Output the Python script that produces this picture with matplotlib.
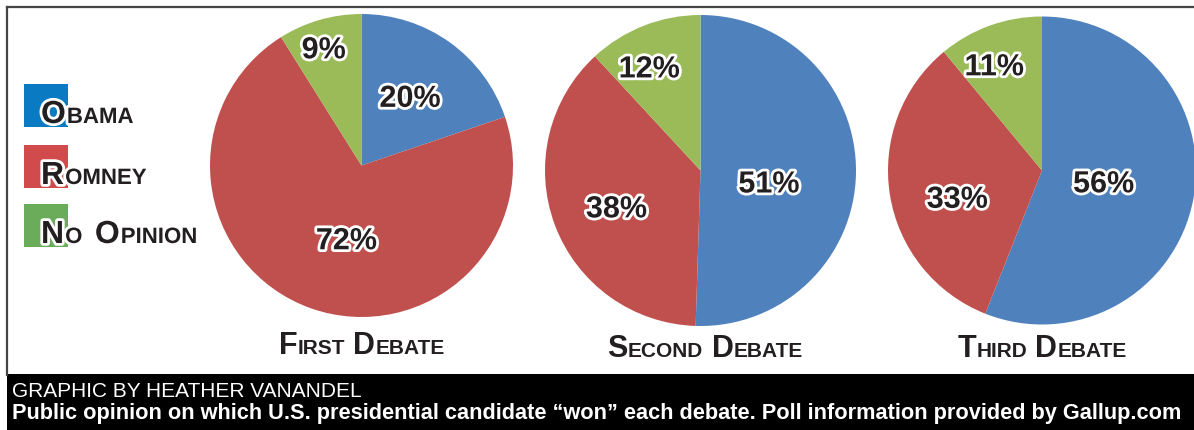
import numpy as np
import matplotlib
matplotlib.use('Agg')
import matplotlib.pyplot as plt
import matplotlib.patheffects as pe
from matplotlib.patches import Rectangle
from matplotlib.lines import Line2D

W, H = 1194, 431

# data
debates = ['First Debate', 'Second Debate', 'Third Debate']
candidates = ['Obama', 'Romney', 'No Opinion']
obama = [20, 51, 56]
romney = [72, 38, 33]
no_opinion = [9, 12, 11]

pie_colors = ['#4f81bd', '#c0504d', '#9bbb59']
legend_colors = ['#0a7bc2', '#d14b4c', '#6aac5a']

# layout (pixels): pie centre x, centre y, radius
pie_geom = [(361.5, 166.5, 151.5), (700.5, 171.5, 155.5), (1042, 171.5, 154)]
# label centres relative to pie centre, in radius units
label_off = [
    [(0.32, 0.44), (-0.10, -0.50), (-0.25, 0.76)],
    [(0.44, -0.09), (-0.54, -0.25), (-0.33, 0.65)],
    [(0.40, -0.09), (-0.55, -0.19), (-0.31, 0.67)],
]
title_pos = [(361.5, 354), (705, 357), (1042, 357)]

FONT = ['Liberation Sans', 'DejaVu Sans']
plt.rcParams['font.family'] = FONT

fig = plt.figure(figsize=(W / 100, H / 100), dpi=100)
renderer = fig.canvas.get_renderer()


def fx(x):
    return x / W


def fy(y):
    return 1 - y / H


def smallcaps(x, y, text, big, small, ha='left', effects=None, gapf=0.28):
    # draw text as small caps: first letter of each word big
    words = text.split()
    pieces = []
    for w in words:
        pieces.append([(w[0].upper(), big), (w[1:].upper(), small)])
    gap = gapf * big * 100 / 72
    items = []
    total = 0
    for i, word in enumerate(pieces):
        for s, size in word:
            if not s:
                continue
            t = fig.text(0, 0, s, fontsize=size, fontweight='bold', va='baseline',
                         ha='left', color='#231f20')
            if effects:
                t.set_path_effects(effects)
            wd = t.get_window_extent(renderer).width
            items.append((t, total))
            total += wd + (1 if effects else 0)
        if i < len(pieces) - 1:
            total += gap
    x0 = x - total / 2 if ha == 'center' else x
    for t, off in items:
        t.set_position((fx(x0 + off), fy(y)))


outline = [pe.withStroke(linewidth=4, foreground='white')]

# pies
for i in range(3):
    cx, cy, r = pie_geom[i]
    ax = fig.add_axes([fx(cx - r), fy(cy + r), 2 * r / W, 2 * r / H])
    vals = [obama[i], romney[i], no_opinion[i]]
    ax.pie(vals, colors=pie_colors, startangle=90, counterclock=False,
           wedgeprops=dict(linewidth=0))
    ax.set_xlim(-1, 1)
    ax.set_ylim(-1, 1)
    ax.axis('off')
    for v, (dx, dy) in zip(vals, label_off[i]):
        ax.text(dx, dy, f'{v}%', ha='center', va='center', fontsize=22,
                fontweight='bold', color='#231f20', path_effects=outline)
    smallcaps(title_pos[i][0], title_pos[i][1], debates[i], 22, 15, ha='center')

# frame
fig.add_artist(Line2D([fx(7), fx(7)], [fy(8), fy(376)], color='#444444', lw=1.6))
fig.add_artist(Line2D([fx(7), 1], [fy(8), fy(8)], color='#444444', lw=1.6))

# legend
legend_top = [85, 146, 205]
for c, col, top in zip(candidates, legend_colors, legend_top):
    fig.add_artist(Rectangle((fx(24), fy(top + 43)), 44 / W, 43 / H,
                             facecolor=col, edgecolor='none'))
    smallcaps(41, top + 39, c, 23, 16, effects=outline, gapf=0.36)

# footer
fig.add_artist(Rectangle((fx(7), 0), 1 - fx(7), 56 / H, facecolor='black',
                         edgecolor='none'))
fig.text(fx(12), fy(397), 'GRAPHIC BY HEATHER VANANDEL', color='white',
         fontsize=15, va='baseline')
cap = fig.text(fx(12), fy(419),
               'Public opinion on which U.S. presidential candidate \u201cwon\u201d each debate. '
               'Poll information provided by Gallup.com',
               color='white', fontsize=16, fontweight='bold', va='baseline')
wd = cap.get_window_extent(renderer).width
cap.set_fontsize(16 * 1171 / wd)

fig.savefig('out.png', dpi=100)
